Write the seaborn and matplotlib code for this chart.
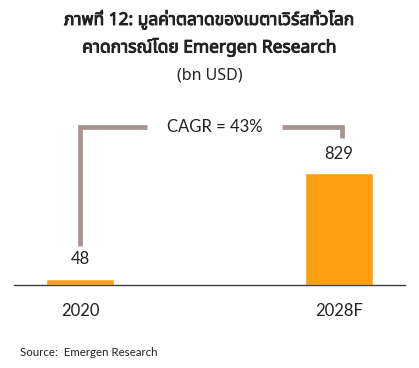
import matplotlib
matplotlib.use("Agg")
import matplotlib.pyplot as plt
import matplotlib.patheffects as pe
import seaborn as sns
import pandas as pd

categories = ["2020", "2028F"]
values = [48, 829]
value_labels = ["48", "829"]
title_lines = ["ภาพที่ 12: มูลค่าตลาดของเมตาเวิร์สทั่วโลก", "คาดการณ์โดย Emergen Research"]
subtitle = "(bn USD)"
cagr_text = "CAGR = 43%"
source_text = "Source:  Emergen Research"

sns.set_theme(style="white")
plt.rcParams['font.family'] = ['Lato', 'Noto Sans Thai', 'Noto Sans', 'DejaVu Sans']
thai_fam = ['Noto Sans Thai', 'Noto Sans', 'DejaVu Sans', 'Lato']

df = pd.DataFrame({"year": categories, "value": values})

fig = plt.figure(figsize=(4.19, 3.68), dpi=100)
ax = fig.add_axes([14/419, 83/368, 391/419, 185/368])
sns.barplot(data=df, x="year", y="value", color="#FFA010", width=0.263,
            saturation=1, ax=ax)
ax.set_xlim(-0.255, 1.255)
ax.set_ylim(0, 1369)
for s in ["left", "right", "top"]:
    ax.spines[s].set_visible(False)
ax.spines["bottom"].set_color("#404040")
ax.spines["bottom"].set_linewidth(1.0)
ax.set_yticks([])
ax.set_xlabel("")
ax.set_ylabel("")
ax.tick_params(axis="x", length=0, pad=13, labelsize=12, labelcolor="#222222")

for i, (v, lab) in enumerate(zip(values, value_labels)):
    ax.annotate(lab, (i, v), xytext=(0, 8), textcoords="offset points",
                ha="center", va="bottom", fontsize=12, color="#222222")

bc = "#A59490"
lw = 3.4
ax.plot([0, 0, 0.26], [289, 1169, 1169], color=bc, lw=lw, solid_capstyle="butt",
        solid_joinstyle="miter", clip_on=False)
ax.plot([0.78, 1.012, 1.012], [1169, 1169, 1088], color=bc, lw=lw,
        solid_capstyle="butt", solid_joinstyle="miter", clip_on=False)
ax.text(0.52, 1169, cagr_text, ha="center", va="center", fontsize=12, color="#222222")

bold_fx = [pe.withStroke(linewidth=0.7, foreground="#222222")]
fig.text(0.5, 1 - 20/368, title_lines[0], ha="center", va="center", fontsize=12.5,
         fontweight="bold", family=thai_fam, color="#222222", path_effects=bold_fx)
fig.text(0.5, 1 - 47/368, title_lines[1], ha="center", va="center", fontsize=12.5,
         fontweight="bold", family=thai_fam, color="#222222", path_effects=bold_fx)
fig.text(0.5, 1 - 76/368, subtitle, ha="center", va="center", fontsize=11.5,
         family=thai_fam, color="#222222")
fig.text(20/419, 1 - 352/368, source_text, ha="left", va="center", fontsize=8.3,
         color="#222222")

fig.savefig("out.png", dpi=100)
